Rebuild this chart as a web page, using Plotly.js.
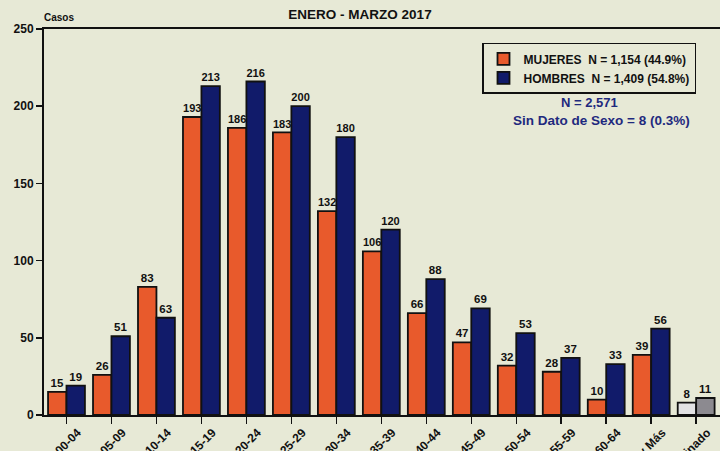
<!DOCTYPE html>
<html>
<head>
<meta charset="utf-8">
<script src="https://cdn.plot.ly/plotly-3.0.1.min.js"></script>
<style>
html,body{margin:0;padding:0;background:#e7e9d6;}
#chart{width:720px;height:451px;}
</style>
</head>
<body>
<div id="chart"></div>
<script>
const categories = ["00-04","05-09","10-14","15-19","20-24","25-29","30-34","35-39","40-44","45-49","50-54","55-59","60-64","65 y Más","Indeterminado"];
const mujeres = [15,26,83,193,186,183,132,106,66,47,32,28,10,39,8];
const hombres = [19,51,63,213,216,200,180,120,88,69,53,37,33,56,11];
const mujeresName = "MUJERES  N = 1,154 (44.9%)";
const hombresName = "HOMBRES  N = 1,409 (54.8%)";
const yTicks = [0,50,100,150,200,250];

const orange = "#e85a2c", navy = "#111b6a";
const colsM = categories.map((c,i)=> i===categories.length-1 ? "#e2e2e4" : orange);
const colsH = categories.map((c,i)=> i===categories.length-1 ? "#8c8a90" : navy);
const font = "Liberation Sans, Arial, sans-serif";

function mk(name, vals, cols){
  return {
    type:"bar", x:categories, y:vals, name:name,
    text:vals.map(String), textposition:"outside", cliponaxis:false,
    textfont:{family:font, size:11.5, color:"#111", weight:"bold"},
    marker:{color:cols, line:{color:"#111", width:1.8}}
  };
}
const traces = [mk(mujeresName, mujeres, colsM), mk(hombresName, hombres, colsH)];

const layout = {
  width:720, height:451,
  paper_bgcolor:"#e7e9d6", plot_bgcolor:"#e7e9d6",
  margin:{l:44, r:0, t:29, b:36},
  barmode:"group", bargap:0.18, bargroupgap:0,
  font:{family:font, color:"#111"},
  hovermode:false,
  title:{text:"ENERO - MARZO 2017", font:{size:13.5, family:font, color:"#111", weight:"bold"}, x:0.5, xanchor:"center", y:0.969, yanchor:"middle"},
  xaxis:{type:"category", range:[-0.5,14.53], tickangle:-45, ticks:"outside", ticklen:7, tickwidth:1.5, tickcolor:"#111",
    ticklabelshift:11, ticklabelstandoff:-3,
    showline:true, linecolor:"#111", linewidth:2, mirror:true, showgrid:false, zeroline:false,
    tickfont:{family:font, size:12, color:"#111", weight:"bold"}},
  yaxis:{range:[0,250], tickvals:yTicks, ticks:"outside", ticklen:6, tickwidth:1.5, tickcolor:"#111",
    showline:true, linecolor:"#111", linewidth:2, showgrid:false, zeroline:false,
    tickfont:{family:font, size:12, color:"#111", weight:"bold"}},
  legend:{x:(482-44)/676, y:0.964, xanchor:"left", yanchor:"top", bgcolor:"rgba(0,0,0,0)",
    bordercolor:"#111", borderwidth:1.5, font:{family:font, size:12, color:"#111", weight:"bold"},
    tracegroupgap:0},
  showlegend:true,
  annotations:[
    {text:"Casos", xref:"paper", yref:"paper", x:0, xanchor:"left", xshift:-2, y:1.031, yanchor:"middle", showarrow:false, font:{family:font, size:10, color:"#111", weight:"bold"}},
    {text:"N = 2,571", xref:"paper", yref:"paper", x:(589-44)/676, xanchor:"center", y:(415-102)/386, yanchor:"middle", showarrow:false, font:{family:font, size:13, color:"#1f2a7e", weight:"bold"}},
    {text:"Sin Dato de Sexo = 8 (0.3%)", xref:"paper", yref:"paper", x:(601-44)/676, xanchor:"center", y:(415-121)/386, yanchor:"middle", showarrow:false, font:{family:font, size:13.5, color:"#1f2a7e", weight:"bold"}}
  ]
};
Plotly.newPlot("chart", traces, layout, {displayModeBar:false, staticPlot:true});
</script>
</body>
</html>
